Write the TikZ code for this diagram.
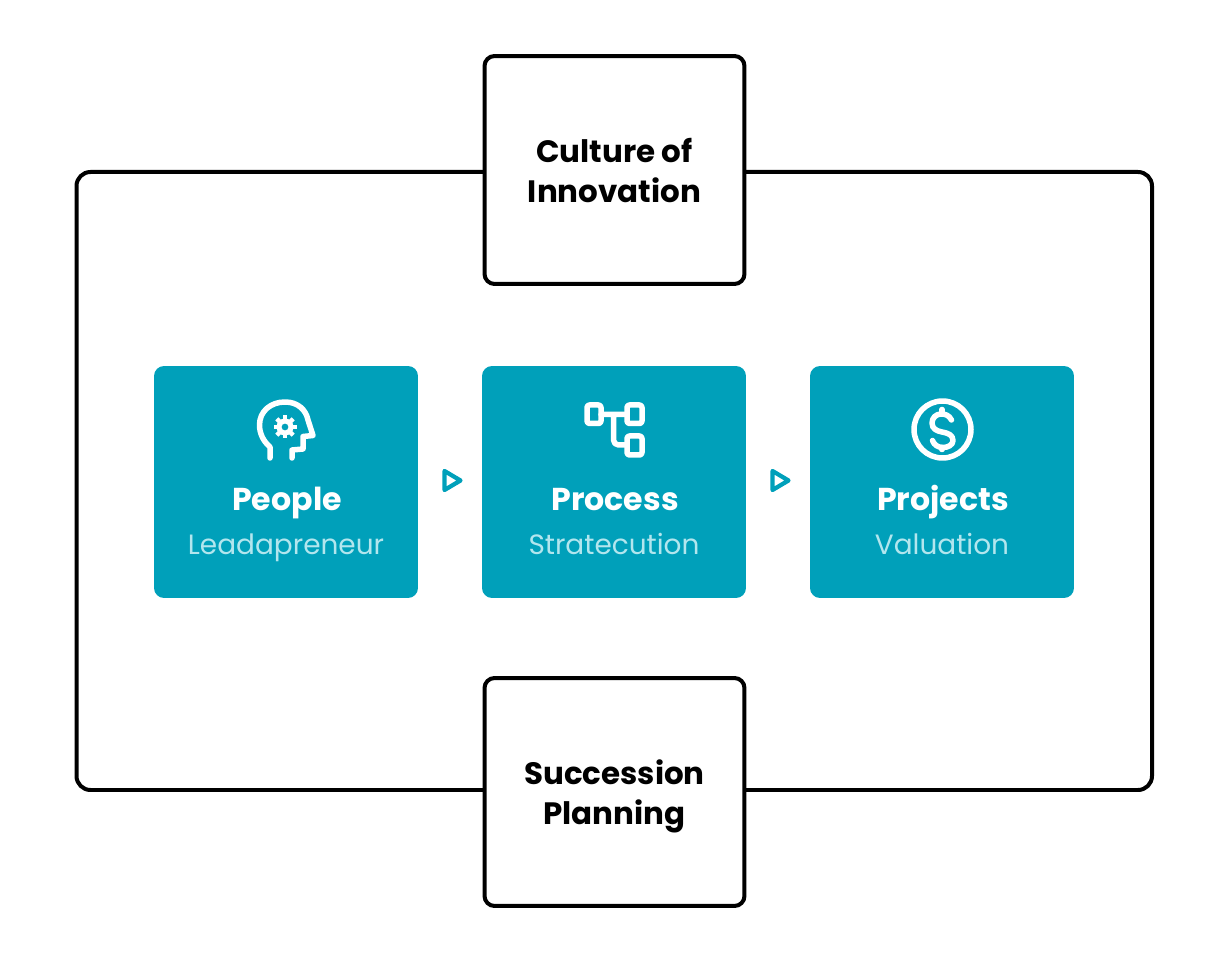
\documentclass[tikz,border=0pt]{standalone}
\usepackage{fontspec}
\setmainfont{Poppins}
\usepackage{xcolor}
\usetikzlibrary{positioning}
\definecolor{cardteal}{HTML}{00A0BA}
\definecolor{cardsub}{HTML}{B2E6EE}
\tikzset{
  outlinebox/.style={draw=black, line width=0.08cm, rounded corners=0.2cm, fill=white,
    minimum width=5.2cm, minimum height=4.56cm, align=center, text depth=0pt,
    font=\fontsize{17.6}{22.8}\selectfont\bfseries, text=black},
  card/.style={fill=cardteal, rounded corners=0.2cm, minimum width=5.28cm, minimum height=4.64cm},
  cardtitle/.style={anchor=base, font=\fontsize{18}{20}\selectfont\bfseries, text=white},
  cardsubtitle/.style={anchor=base, font=\fontsize{15.9}{18}\selectfont, text=cardsub},
  icon/.style={draw=white, line width=0.11cm, line cap=round, line join=round},
  flowmark/.style={draw=cardteal, line width=0.085cm, line join=round}
}
\begin{document}
\begin{tikzpicture}[x=0.02cm, y=-0.02cm]
  \useasboundingbox (0,0) rectangle (1228,962);

  % Outer frame
  \draw[black, line width=0.08cm, rounded corners=0.28cm] (76.5,172) rectangle (1152,790);

  % Top and bottom boxes
  \node[outlinebox] (culture) at (614.5,170) {Culture of\\Innovation};
  \node[outlinebox] (succession) at (614.5,792) {Succession\\Planning};

  % Three cards
  \foreach \cardname/\cx/\cardttl/\cardsb in {
    people/286/People/Leadapreneur,
    process/614/Process/Stratecution,
    projects/942/Projects/Valuation
  }{
    \node[card] (\cardname) at (\cx,482) {};
    \node[cardtitle] (\cardname title) at (\cx+1,511) {\cardttl};
    \node[cardsubtitle] (\cardname sub) at (\cx,555) {\cardsb};
  }

  % Marks between cards
  \foreach \mx in {444.5,772.5}{
    \draw[flowmark] (\mx,471) -- (\mx+16,480.5) -- (\mx,490) -- cycle;
  }

  % People icon
  \draw[icon] (270,458) -- (270,447)
    .. controls (263,441) and (259.5,433) .. (259.5,425)
    .. controls (259.5,411) and (271,402) .. (285,402)
    .. controls (298,402) and (306,410) .. (308,420)
    -- (313,435.5) -- (303,436.5) -- (303,449) -- (292,450) -- (292,458);
  \fill[white, even odd rule] (285,427) circle (8.5) (285,427) circle (3.5);
  \foreach \ang in {0,45,...,315}{
    \draw[white, line width=0.09cm] (285,427) ++(\ang:7) -- ++(\ang:4.5);
  }

  % Process icon
  \draw[icon, rounded corners=0.05cm] (587,405) rectangle (601,423.5);
  \draw[icon, rounded corners=0.05cm] (627,405) rectangle (642,423.5);
  \draw[icon, rounded corners=0.05cm] (627,436) rectangle (642,455);
  \draw[icon, rounded corners=0.1cm] (601,414.5) -- (627,414.5)
    (613.5,414.5) -- (613.5,445) -- (627,445);

  % Projects icon
  \draw[icon] (942.5,429.5) circle (28.5);
  \draw[icon] (951.5,420)
    .. controls (949,415) and (945,414) .. (941,414)
    .. controls (936,414) and (932,418) .. (932,423)
    .. controls (932,429) and (937,431) .. (942,432)
    .. controls (948,433) and (953,435) .. (953,440.5)
    .. controls (953,445) and (948,447.5) .. (943,447.5)
    .. controls (938,447.5) and (934,445) .. (932.5,440.5);
  \draw[icon] (942,409.5) -- (942,414) (942,447.5) -- (942,449.5);
\end{tikzpicture}
\end{document}
